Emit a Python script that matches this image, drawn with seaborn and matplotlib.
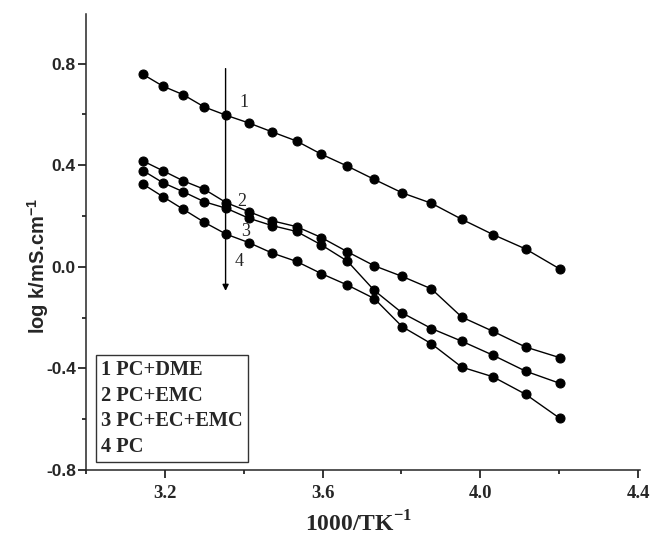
import numpy as np
import pandas as pd
import matplotlib
matplotlib.use("Agg")
import matplotlib.pyplot as plt
import seaborn as sns

# ---- data ----
inv_T = [3.145, 3.195, 3.247, 3.300, 3.356, 3.413, 3.472, 3.534, 3.597,
         3.663, 3.731, 3.802, 3.876, 3.953, 4.032, 4.115, 4.202]
s1_pc_dme = [0.757, 0.711, 0.677, 0.629, 0.596, 0.566, 0.531, 0.495, 0.443,
             0.396, 0.344, 0.291, 0.250, 0.187, 0.127, 0.070, -0.009]
s2_pc_emc = [0.416, 0.378, 0.338, 0.305, 0.252, 0.217, 0.181, 0.158, 0.115,
             0.059, 0.004, -0.038, -0.087, -0.198, -0.254, -0.316, -0.358]
s3_pc_ec_emc = [0.378, 0.331, 0.295, 0.256, 0.230, 0.191, 0.162, 0.139, 0.086,
                0.022, -0.093, -0.182, -0.243, -0.293, -0.348, -0.411, -0.459]
s4_pc = [0.325, 0.276, 0.226, 0.175, 0.128, 0.095, 0.054, 0.021, -0.027,
         -0.072, -0.125, -0.236, -0.303, -0.395, -0.433, -0.502, -0.597]
series_names = ["1 PC+DME", "2 PC+EMC", "3 PC+EC+EMC", "4 PC"]
series_values = [s1_pc_dme, s2_pc_emc, s3_pc_ec_emc, s4_pc]
curve_numbers = ["1", "2", "3", "4"]
x_ticks = [3.2, 3.6, 4.0, 4.4]
y_ticks = [-0.8, -0.4, 0.0, 0.4, 0.8]

sns.set_style("ticks")
plt.rcParams["mathtext.fontset"] = "custom"
plt.rcParams["mathtext.sf"] = "Liberation Sans:bold"
plt.rcParams["mathtext.bf"] = "Liberation Serif:bold"
plt.rcParams["axes.linewidth"] = 1.1

df = pd.concat([pd.DataFrame({"x": inv_T, "y": v, "series": n})
                for n, v in zip(series_names, series_values)], ignore_index=True)

fig = plt.figure(figsize=(6.54, 5.43), dpi=100)
ax = fig.add_axes([86/654, 1-470/543, 554/654, 456/543])

for n in series_names:
    sns.lineplot(data=df[df["series"] == n], x="x", y="y", ax=ax, color="black",
                 marker="o", markersize=6.5, markeredgecolor="black",
                 linewidth=1.0, legend=False)

ax.set_xlim(3.0, 4.405)
ax.set_ylim(-0.8, 0.995)
sns.despine(ax=ax)

ax.set_xticks(x_ticks)
ax.set_xticklabels([f"{t:.1f}" for t in x_ticks], fontfamily="Liberation Serif",
                   fontweight="bold", fontsize=13.5)
ax.set_xticks([3.0, 3.4, 3.8, 4.2], minor=True)
ax.set_yticks(y_ticks)
ax.set_yticklabels([f"{t:.1f}" for t in y_ticks], fontfamily="Liberation Sans",
                   fontweight="bold", fontsize=12.5)
ax.set_yticks([-0.6, -0.2, 0.2, 0.6], minor=True)
ax.tick_params(axis="both", which="major", direction="out", length=6, width=1.1, color="black")
ax.tick_params(axis="both", which="minor", direction="out", length=3, width=1.1, color="black")
ax.tick_params(axis="x", which="major", pad=4.5)
ax.tick_params(axis="y", which="major", pad=1.2)

ax.set_xlabel(r"1000/TK$^{\mathbf{-1}}$", fontfamily="Liberation Serif",
              fontweight="bold", fontsize=17)
ax.xaxis.set_label_coords((359-86)/554, -(511-470)/456)
ax.set_ylabel(r"log k/mS.cm$^{\mathsf{-1}}$", fontfamily="Liberation Sans",
              fontweight="bold", fontsize=14.5)
ax.yaxis.set_label_coords(-(86-51)/554, (470-266)/456)

# arrow and curve numbers
ax.annotate("", xy=(3.354, -0.095), xytext=(3.354, 0.78),
            arrowprops=dict(arrowstyle="-|>", color="black", lw=1.0,
                            mutation_scale=9, shrinkA=0, shrinkB=0))
num_pos = [(3.401, 0.647), (3.396, 0.255), (3.406, 0.137), (3.389, 0.020)]
for lab, (px, py) in zip(curve_numbers, num_pos):
    ax.text(px, py, lab, fontfamily="Liberation Serif", fontsize=13,
            ha="center", va="center")

# legend box
ax.text(101/654, 1-360/543, "\n".join(series_names), transform=fig.transFigure,
        fontfamily="Liberation Serif", fontweight="bold", fontsize=14.7,
        ha="left", va="top", linespacing=1.37,
        bbox=dict(boxstyle="square,pad=0.25", facecolor="white",
                  edgecolor="#333333", linewidth=1.0))

fig.savefig("out.png", dpi=100)
